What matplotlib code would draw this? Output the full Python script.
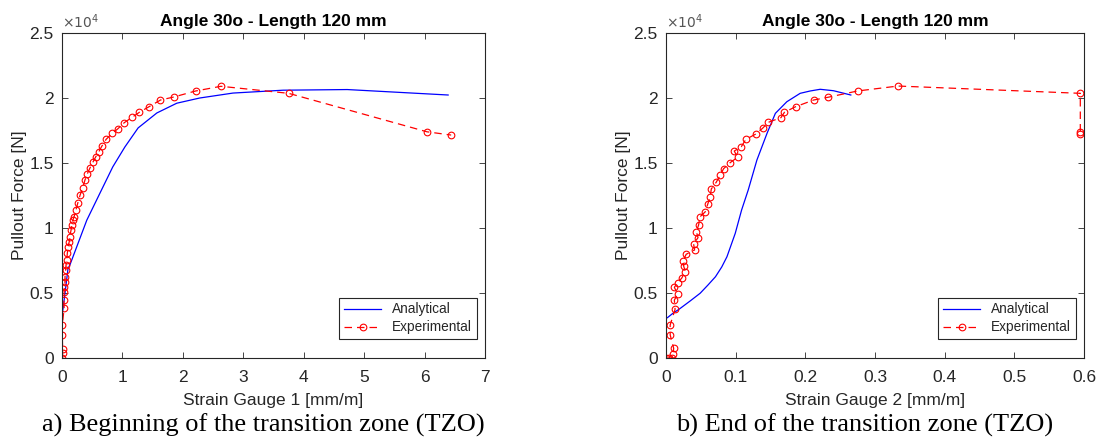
import matplotlib
matplotlib.use("Agg")
import matplotlib.pyplot as plt
from matplotlib.ticker import FuncFormatter

# ---------------- data ----------------
# Left panel: Strain Gauge 1 [mm/m] vs Pullout Force [N]
ana1_x = [0, 0.0, 0.05, 0.10, 0.13, 0.41, 0.63, 0.84, 1.04, 1.26, 1.57, 1.90, 2.28, 2.83, 3.66, 4.72, 6.39]
ana1_f = [0, 3180, 5000, 6900, 7150, 10600, 12700, 14700, 16230, 17700, 18850, 19600, 20000, 20380, 20600, 20650, 20230]

exp1_x = [0, 0.01, 0.01, 0.005, 0.005, 0.035, 0.033, 0.035, 0.04, 0.05, 0.05, 0.06, 0.067, 0.078,
          0.088, 0.10, 0.12, 0.13, 0.15, 0.16, 0.18, 0.20, 0.23, 0.26, 0.30, 0.34, 0.38, 0.42,
          0.46, 0.51, 0.56, 0.61, 0.66, 0.73, 0.83, 0.92, 1.03, 1.16, 1.28, 1.44, 1.63, 1.85,
          2.21, 2.63, 3.75, 6.04, 6.44]
exp1_f = [0, 360, 670, 1770, 2540, 3820, 4460, 5100, 5480, 5870, 6250, 6770, 7150, 7540,
          8050, 8560, 8950, 9330, 9850, 10230, 10600, 10870, 11380, 11900, 12540, 13050, 13690, 14180,
          14590, 15050, 15490, 15870, 16300, 16820, 17280, 17615, 18100, 18515, 18900, 19330, 19846, 20077,
          20538, 20900, 20360, 17400, 17150]

# Right panel: Strain Gauge 2 [mm/m] vs Pullout Force [N]
ana2_x = [0, 0.0, 0.002, 0.009, 0.0205, 0.035, 0.049, 0.060, 0.071, 0.080, 0.0875, 0.0994,
          0.1085, 0.118, 0.1305, 0.145, 0.157, 0.1735, 0.1926, 0.207, 0.2213, 0.2404, 0.2653]
ana2_f = [0, 3050, 3100, 3400, 3820, 4400, 4980, 5600, 6250, 7000, 7790, 9590,
          11380, 12920, 15230, 17280, 18820, 19715, 20360, 20540, 20670, 20560, 20230]

exp2_x = [0, 0.004, 0.0086, 0.01, 0.011, 0.006, 0.006, 0.013, 0.012, 0.0167, 0.012, 0.0167,
          0.0224, 0.0277, 0.0253, 0.0244, 0.029, 0.041, 0.0396, 0.046, 0.0435, 0.0468, 0.049,
          0.0564, 0.06, 0.0635, 0.065, 0.072, 0.078, 0.0826, 0.0922, 0.1027, 0.098, 0.108,
          0.1147, 0.129, 0.1386, 0.147, 0.165, 0.170, 0.186, 0.212, 0.232, 0.275, 0.333,
          0.5947, 0.5947, 0.5947]
exp2_f = [0, 0, 0, 300, 750, 1770, 2540, 3740, 4460, 4900, 5440, 5800,
          6130, 6640, 7080, 7490, 7980, 8310, 8770, 9260, 9720, 10230, 10870,
          11250, 11850, 12410, 13000, 13510, 14080, 14560, 15030, 15440, 15920, 16250,
          16820, 17230, 17670, 18130, 18490, 18900, 19330, 19846, 20050, 20540, 20920,
          20360, 17410, 17230]

title = "Angle 30o - Length 120 mm"
xlabels = ["Strain Gauge 1 [mm/m]", "Strain Gauge 2 [mm/m]"]
ylabel = "Pullout Force [N]"
captions = ["a) Beginning of the transition zone (TZO)", "b) End of the transition zone (TZO)"]
legend_labels = ["Analytical", "Experimental"]
yticks = [0, 5000, 10000, 15000, 20000, 25000]
ytick_labels = ["0", "0.5", "1", "1.5", "2", "2.5"]
xticks1 = [0, 1, 2, 3, 4, 5, 6, 7]
xticks2 = [0, 0.1, 0.2, 0.3, 0.4, 0.5, 0.6]

# ---------------- style ----------------
plt.rcParams['font.family'] = ['Liberation Sans', 'DejaVu Sans']
gray = '#262626'
W, H = 1099, 441
fig = plt.figure(figsize=(W / 100, H / 100), dpi=100)

axes_px = [(62, 485), (666, 1084)]
top_px, bot_px = 33, 358
panels = [(ana1_x, ana1_f, exp1_x, exp1_f, xticks1, (0, 7)),
          (ana2_x, ana2_f, exp2_x, exp2_f, xticks2, (0, 0.6))]
caption_cx = [263, 864.5]

for i, (ax_x, ax_f, ex_x, ex_f, xt, xl) in enumerate(panels):
    l, r = axes_px[i]
    ax = fig.add_axes([l / W, (H - bot_px) / H, (r - l) / W, (bot_px - top_px) / H])
    ax.plot(ax_x, ax_f, color='#0000FF', lw=0.9, label=legend_labels[0])
    ax.plot(ex_x, ex_f, color='#FF0000', lw=0.9, ls=(0, (6, 4)), marker='o',
            ms=4.8, mfc='none', mec='#FF0000', mew=0.8, label=legend_labels[1])
    ax.set_xlim(*xl)
    ax.set_ylim(0, 25000)
    ax.set_xticks(xt)
    ax.xaxis.set_major_formatter(FuncFormatter(lambda v, p: '%g' % v))
    ax.set_yticks(yticks)
    ax.set_yticklabels(ytick_labels)
    ax.tick_params(direction='in', length=4, width=0.6, colors=gray, labelsize=12.5,
                   top=True, right=True)
    ax.tick_params(axis='x', pad=8.5)
    ax.tick_params(axis='y', pad=6)
    for s in ax.spines.values():
        s.set_color(gray)
        s.set_linewidth(0.8)
    ax.set_title(title, fontsize=12.5, fontweight='bold', color='black', pad=5)
    ax.set_xlabel(xlabels[i], fontsize=12.5, color=gray, labelpad=6)
    ax.set_ylabel(ylabel, fontsize=12.5, color=gray, labelpad=1.5)
    ax.text(0.0, 1.005, r'$\times10^{4}$', transform=ax.transAxes, fontsize=10,
            color='#555555', ha='left', va='bottom')
    leg = ax.legend(loc='lower right', fontsize=9.8, frameon=True, fancybox=False,
                    edgecolor=gray, framealpha=1, borderpad=0.35, handlelength=2.7,
                    labelspacing=0.3, bbox_to_anchor=(0.996, 0.037))
    leg.get_frame().set_linewidth(0.8)
    for t in leg.get_texts():
        t.set_color(gray)
    fig.text(caption_cx[i] / W, 1 - 425 / H, captions[i],
             family=['Liberation Serif', 'DejaVu Serif'], fontsize=19,
             ha='center', va='center', color='black')

fig.savefig('out.png', dpi=100)
